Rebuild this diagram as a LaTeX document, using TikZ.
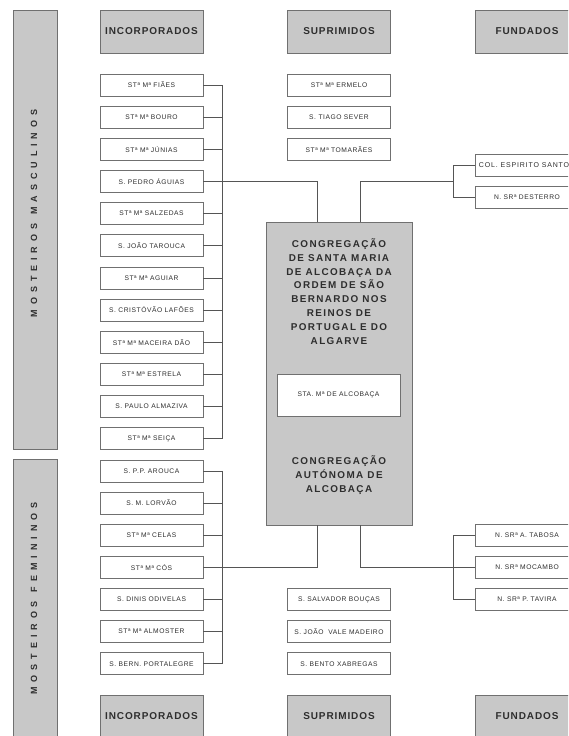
\documentclass[tikz,border=0pt]{standalone}
\usepackage{fontspec}
\setmainfont{Liberation Sans}
\newfontfamily\hfont[LetterSpace=9]{Liberation Sans}
\newfontfamily\cfont[LetterSpace=14]{Liberation Sans}
\newfontfamily\sfont[LetterSpace=8]{Liberation Sans}
\newfontfamily\wfont[LetterSpace=12]{Liberation Sans}
\newfontfamily\vfont[LetterSpace=55]{Liberation Sans}
\definecolor{hdr}{HTML}{C8C8C8}
\definecolor{edge}{HTML}{707070}
\definecolor{txt}{HTML}{2E2E2E}
\definecolor{wire}{HTML}{555555}
\begin{document}
\begin{tikzpicture}[x=1pt,y=-1pt,
  hdrbox/.style={draw=edge, fill=hdr, line width=0.8pt, minimum width=103pt, minimum height=43pt, inner sep=0pt, text=txt, font=\hfont\fontsize{10}{12}\bfseries},
  itembox/.style={draw=edge, fill=white, line width=0.6pt, minimum width=103pt, minimum height=22pt, inner sep=0pt, text=txt, font=\sfont\fontsize{6.7}{8}\selectfont},
  barbox/.style={draw=edge, fill=hdr, line width=0.8pt},
  bartext/.style={rotate=90, text=txt, font=\vfont\fontsize{9}{10}\bfseries},
  wire/.style={draw=wire, line width=0.6pt}
]
\useasboundingbox (0,0) rectangle (568,736);
\clip (0,0) rectangle (568,736);
\fill[white] (0,0) rectangle (568,736);

% side bars
\draw[barbox] (13,10) rectangle (57,449);
\draw[barbox] (13,459) rectangle (57,746);
\node[bartext] (tm) at (34,213.5) {MOSTEIROS\quad MASCULINOS};
\node[bartext] (tf) at (34,598.5) {MOSTEIROS\quad FEMININOS};

% headers
\node[hdrbox] (h1) at (151.5,31.5) {INCORPORADOS};
\node[hdrbox] (h2) at (339,31.5) {SUPRIMIDOS};
\node[hdrbox] (h3) at (527,31.5) {FUNDADOS};
\node[hdrbox] (b1) at (151.5,716.5) {INCORPORADOS};
\node[hdrbox] (b2) at (339,716.5) {SUPRIMIDOS};
\node[hdrbox] (b3) at (527,716.5) {FUNDADOS};

% incorporados
\node[itembox] (m1) at (151.5,85) {STª Mª FIÃES};
\node[itembox] (m2) at (151.5,117.15) {STª Mª BOURO};
\node[itembox] (m3) at (151.5,149.3) {STª Mª JÚNIAS};
\node[itembox] (m4) at (151.5,181.45) {S. PEDRO ÁGUIAS};
\node[itembox] (m5) at (151.5,213.6) {STª Mª SALZEDAS};
\node[itembox] (m6) at (151.5,245.75) {S. JOÃO TAROUCA};
\node[itembox] (m7) at (151.5,277.9) {STª Mª AGUIAR};
\node[itembox] (m8) at (151.5,310.05) {S. CRISTÓVÃO LAFÕES};
\node[itembox] (m9) at (151.5,342.2) {STª Mª MACEIRA DÃO};
\node[itembox] (m10) at (151.5,374.35) {STª Mª ESTRELA};
\node[itembox] (m11) at (151.5,406.5) {S. PAULO ALMAZIVA};
\node[itembox] (m12) at (151.5,438.65) {STª Mª SEIÇA};
\node[itembox] (f1) at (151.5,470.8) {S. P.P. AROUCA};
\node[itembox] (f2) at (151.5,502.95) {S. M. LORVÃO};
\node[itembox] (f3) at (151.5,535.1) {STª Mª CELAS};
\node[itembox] (f4) at (151.5,567.25) {STª Mª CÓS};
\node[itembox] (f5) at (151.5,599.4) {S. DINIS ODIVELAS};
\node[itembox] (f6) at (151.5,631.55) {STª Mª ALMOSTER};
\node[itembox] (f7) at (151.5,663.7) {S. BERN. PORTALEGRE};

% suprimidos
\node[itembox] (s1) at (339,85) {STª Mª ERMELO};
\node[itembox] (s2) at (339,117.15) {S. TIAGO SEVER};
\node[itembox] (s3) at (339,149.3) {STª Mª TOMARÃES};
\node[itembox] (s4) at (339,599.4) {S. SALVADOR BOUÇAS};
\node[itembox] (s5) at (339,631.55) {S. JOÃO\ \ VALE MADEIRO};
\node[itembox] (s6) at (339,663.7) {S. BENTO XABREGAS};

% fundados
\node[itembox, font=\wfont\fontsize{7}{8}\selectfont] (d1) at (527,165.4) {\hspace*{-6pt}COL. ESPIRITO SANTO};
\node[itembox] (d2) at (527,197.5) {N. SRª DESTERRO};
\node[itembox] (d3) at (527,535.1) {N. SRª A. TABOSA};
\node[itembox] (d4) at (527,567.25) {N. SRª MOCAMBO};
\node[itembox] (d5) at (527,599.4) {N. SRª P. TAVIRA};

% central box
\node[draw=edge, fill=hdr, line width=0.8pt, minimum width=146pt, minimum height=303pt, inner sep=0pt] (cong) at (339,373.5) {};
\node[text=txt, align=center, font=\cfont\fontsize{9.9}{13.8}\bfseries] (ct) at (339,291.5)
  {CONGREGAÇÃO\\DE SANTA MARIA\\DE ALCOBAÇA DA\\ORDEM DE SÃO\\BERNARDO NOS\\REINOS DE\\PORTUGAL E DO\\ALGARVE};
\node[draw=edge, fill=white, line width=0.6pt, minimum width=123pt, minimum height=42pt, inner sep=0pt, text=txt, font=\sfont\fontsize{6.7}{8}\selectfont] (alc) at (338.5,395) {STA. Mª DE ALCOBAÇA};
\node[text=txt, align=center, font=\cfont\fontsize{9.9}{14.3}\bfseries] (cb) at (339,475)
  {CONGREGAÇÃO\\AUTÓNOMA DE\\ALCOBAÇA};

% junction coordinates
\coordinate (busM) at (222,0);
\coordinate (cl) at (317.5,0);
\coordinate (cr) at (360,0);
\coordinate (busR) at (453,0);

\begin{scope}[wire]
% masculinos bus
\foreach \n in {m1,m2,m3,m5,m6,m7,m8,m9,m10,m11,m12}
  \draw (\n.east) -- (\n.east -| busM);
\draw (m1.east -| busM) -- (m12.east -| busM);
\draw (m4.east) -| (cl |- cong.north);
% femininos bus
\foreach \n in {f1,f2,f3,f5,f6,f7}
  \draw (\n.east) -- (\n.east -| busM);
\draw (f1.east -| busM) -- (f7.east -| busM);
\draw (f4.east) -| (cl |- cong.south);
% fundados top
\draw (cr |- cong.north) |- (m4.east -| busR);
\draw (d1.west) -| (busR |- d2.west) -- (d2.west);
% fundados bottom
\draw (cr |- cong.south) |- (d4.west);
\draw (d3.west) -| (busR |- d5.west) -- (d5.west);
\end{scope}
\end{tikzpicture}
\end{document}
